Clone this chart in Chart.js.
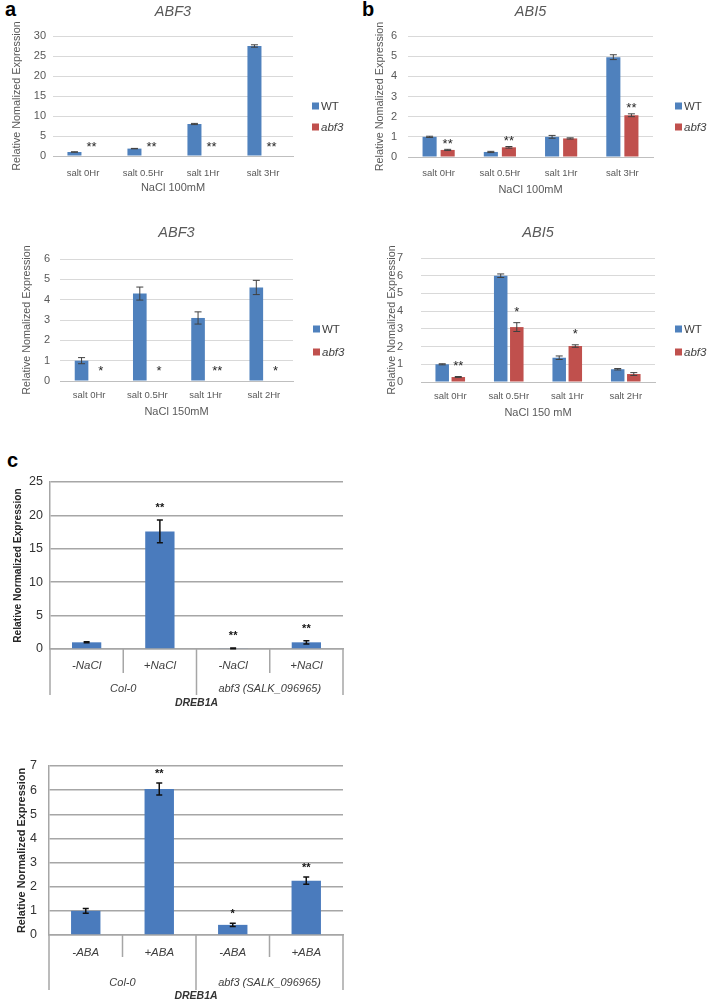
<!DOCTYPE html>
<html>
<head>
<meta charset="utf-8">
<script src="https://cdn.jsdelivr.net/npm/chart.js@4.4.1/dist/chart.umd.min.js"></script>
<style>
  body { margin: 0; background: #fff; width: 707px; height: 999px; position: relative; overflow: hidden; }
  canvas { position: absolute; }
  .tag { position: absolute; font: bold 20px "Liberation Sans", Arial, sans-serif; color: #000; }
</style>
</head>
<body>
<div class="tag" style="left:5px;top:-2px">a</div>
<div class="tag" style="left:362px;top:-2px">b</div>
<div class="tag" style="left:7px;top:449px">c</div>
<canvas id="a1" width="350" height="200" style="left:0;top:0"></canvas>
<canvas id="b1" width="357" height="200" style="left:350px;top:0"></canvas>
<canvas id="a2" width="350" height="230" style="left:0;top:200px"></canvas>
<canvas id="b2" width="357" height="230" style="left:350px;top:200px"></canvas>
<canvas id="c1" width="360" height="290" style="left:0;top:440px"></canvas>
<canvas id="c2" width="360" height="272" style="left:0;top:730px"></canvas>
<script>
// panel a/b data
const genotypes = ['WT', 'abf3'];
const salt100 = ['salt 0Hr', 'salt 0.5Hr', 'salt 1Hr', 'salt 3Hr'];
const salt150 = ['salt 0Hr', 'salt 0.5Hr', 'salt 1Hr', 'salt 2Hr'];

const abf3_100_wt = [1.0, 1.85, 8.0, 27.5];
const abf3_100_wtErr = [0.05, 0.05, 0.15, 0.3];
const abf3_100_mut = [0, 0, 0, 0];
const abf3_100_mutErr = [0, 0, 0, 0];
const abf3_100_sig = ['**', '**', '**', '**'];
const abf3_100_ticks = [0, 5, 10, 15, 20, 25, 30];

const abi5_100_wt = [1.0, 0.25, 1.0, 4.95];
const abi5_100_wtErr = [0.03, 0.03, 0.07, 0.12];
const abi5_100_mut = [0.35, 0.48, 0.92, 2.07];
const abi5_100_mutErr = [0.03, 0.04, 0.03, 0.07];
const abi5_100_sig = ['**', '**', '', '**'];
const abi5_100_ticks = [0, 1, 2, 3, 4, 5, 6];

const abf3_150_wt = [1.0, 4.3, 3.1, 4.6];
const abf3_150_wtErr = [0.15, 0.32, 0.3, 0.35];
const abf3_150_mut = [0, 0, 0, 0];
const abf3_150_mutErr = [0, 0, 0, 0];
const abf3_150_sig = ['*', '*', '**', '*'];
const abf3_150_ticks = [0, 1, 2, 3, 4, 5, 6];

const abi5_150_wt = [1.0, 6.0, 1.37, 0.72];
const abi5_150_wtErr = [0.03, 0.1, 0.1, 0.04];
const abi5_150_mut = [0.28, 3.1, 2.03, 0.45];
const abi5_150_mutErr = [0.03, 0.25, 0.07, 0.08];
const abi5_150_sig = ['**', '*', '*', ''];
const abi5_150_ticks = [0, 1, 2, 3, 4, 5, 6, 7];

// panel c data
const lines = ['Col-0', 'abf3 (SALK_096965)'];
const treatNaCl = ['-NaCl', '+NaCl', '-NaCl', '+NaCl'];
const treatABA = ['-ABA', '+ABA', '-ABA', '+ABA'];
const dreb_nacl = [1.0, 17.6, 0.1, 1.0];
const dreb_naclErr = [0.08, 1.7, 0.05, 0.25];
const dreb_naclSig = ['', '**', '**', '**'];
const dreb_naclTicks = [0, 5, 10, 15, 20, 25];
const dreb_aba = [1.0, 6.05, 0.42, 2.25];
const dreb_abaErr = [0.1, 0.25, 0.07, 0.15];
const dreb_abaSig = ['', '**', '*', '**'];
const dreb_abaTicks = [0, 1, 2, 3, 4, 5, 6, 7];

const fam = '"Liberation Sans", Arial, sans-serif';
const grey = '#595959';

// error bars, stars, legend and grouped axis labels
const extras = {
  id: 'extras',
  afterDatasetsDraw(chart) {
    const o = chart.options.plugins.extras;
    const ctx = chart.ctx, y = chart.scales.y, x = chart.scales.x, area = chart.chartArea;
    ctx.save();
    ctx.strokeStyle = o.errColor;
    ctx.lineWidth = o.errWidth;
    o.errors.forEach((errs, di) => {
      chart.getDatasetMeta(di).data.forEach((bar, i) => {
        const e = errs[i];
        if (!e) return;
        const v = chart.data.datasets[di].data[i];
        const t = y.getPixelForValue(v + e), b = y.getPixelForValue(v - e);
        ctx.beginPath();
        ctx.moveTo(bar.x, t); ctx.lineTo(bar.x, b);
        ctx.moveTo(bar.x - o.cap, t); ctx.lineTo(bar.x + o.cap, t);
        ctx.moveTo(bar.x - o.cap, b); ctx.lineTo(bar.x + o.cap, b);
        ctx.stroke();
      });
    });

    const sd = o.sigDataset, meta = chart.getDatasetMeta(sd);
    ctx.fillStyle = o.sigColor;
    ctx.font = o.sigFont;
    ctx.textAlign = 'center';
    ctx.textBaseline = 'middle';
    o.sig.forEach((s, i) => {
      if (!s) return;
      const v = chart.data.datasets[sd].data[i] + (o.errors[sd][i] || 0);
      const yy = Math.min(y.getPixelForValue(v), y.getPixelForValue(0)) - o.sigGap;
      ctx.fillText(s, meta.data[i].x + o.sigDx, yy + 3);
    });

    if (o.legend) {
      const L = o.legend;
      ctx.textAlign = 'left';
      chart.data.datasets.forEach((d, i) => {
        ctx.fillStyle = d.backgroundColor;
        ctx.fillRect(area.right + L.dx, L.ys[i] - 3.5, 7, 7);
        ctx.fillStyle = '#404040';
        ctx.font = (i === 1 ? 'italic ' : '') + '11.5px ' + fam;
        ctx.fillText(d.label, area.right + L.dx + 9, L.ys[i] + 0.5);
      });
    }

    if (o.groups) {
      const G = o.groups, n = chart.data.labels.length;
      ctx.strokeStyle = '#a6a6a6';
      ctx.lineWidth = 1.5;
      for (let k = 0; k <= n; k++) {
        const px = x.getPixelForValue(k - 0.5);
        const len = k % G.span === 0 ? G.outer : G.inner;
        ctx.beginPath();
        ctx.moveTo(px, area.bottom);
        ctx.lineTo(px, area.bottom + len);
        ctx.stroke();
      }
      ctx.fillStyle = '#404040';
      ctx.font = 'italic 11px ' + fam;
      ctx.textAlign = 'center';
      G.labels.forEach((g, j) => {
        const c = x.getPixelForValue(j * G.span + (G.span - 1) / 2);
        ctx.fillText(g, c, area.bottom + G.labelDy);
      });
    }
    ctx.restore();
  }
};

function exprPanel(id, p) {
  return new Chart(document.getElementById(id), {
    type: 'bar',
    data: {
      labels: p.labels,
      datasets: [
        { label: genotypes[0], data: p.wt, backgroundColor: '#4f81bd' },
        { label: genotypes[1], data: p.mut, backgroundColor: '#c0504d' }
      ].map(d => Object.assign(d, { borderWidth: 0, categoryPercentage: p.cat, barPercentage: p.bar }))
    },
    options: {
      responsive: false,
      animation: false,
      devicePixelRatio: 1,
      layout: { padding: p.pad },
      plugins: {
        legend: { display: false },
        tooltip: { enabled: false },
        title: {
          display: true, text: p.title, color: grey, fullSize: false,
          font: { family: fam, size: 14.5, style: 'italic', weight: 'normal' },
          padding: p.titlePad
        },
        extras: {
          errors: [p.wtErr, p.mutErr], errColor: '#404040', errWidth: 1, cap: 3.5,
          sig: p.sig, sigDataset: 1, sigGap: p.sigGap, sigDx: p.sigDx || 0,
          sigFont: '13px ' + fam, sigColor: '#262626',
          legend: { dx: p.legendDx, ys: p.legendYs }
        }
      },
      scales: {
        x: {
          grid: { display: false },
          border: { display: true, color: '#bfbfbf' },
          ticks: { color: grey, font: { family: fam, size: 9.5 }, padding: p.xTickPad, maxRotation: 0, autoSkip: false },
          title: { display: true, text: p.xTitle, color: grey, font: { family: fam, size: 11 }, padding: { top: 0, bottom: p.xTitlePad } },
          afterFit: s => { s.height = p.xH; }
        },
        y: {
          min: p.ticks[0], max: p.ticks[p.ticks.length - 1],
          afterBuildTicks: s => { s.ticks = p.ticks.map(v => ({ value: v })); },
          grid: { color: '#d9d9d9', drawTicks: false },
          border: { display: false },
          ticks: { color: grey, font: { family: fam, size: 11 }, padding: p.yTickPad },
          title: { display: true, text: 'Relative Nomalized Expression', color: grey, font: { family: fam, size: 10.8 }, padding: { top: p.yTitlePad, bottom: 0 } },
          afterFit: s => { s.width = p.yW; }
        }
      }
    },
    plugins: [extras]
  });
}

function drebPanel(id, p) {
  return new Chart(document.getElementById(id), {
    type: 'bar',
    data: {
      labels: p.labels,
      datasets: [{ label: 'DREB1A', data: p.values, backgroundColor: '#4a7bbd', borderWidth: 0, categoryPercentage: 1, barPercentage: 0.4 }]
    },
    options: {
      responsive: false,
      animation: false,
      devicePixelRatio: 1,
      layout: { padding: p.pad },
      plugins: {
        legend: { display: false },
        tooltip: { enabled: false },
        extras: {
          errors: [p.errors], errColor: '#111', errWidth: 1.5, cap: 3,
          sig: p.sig, sigDataset: 0, sigGap: p.sigGap, sigDx: 0,
          sigFont: 'bold 11px ' + fam, sigColor: '#111',
          groups: { labels: lines, span: 2, inner: p.inner, outer: p.outer, labelDy: p.groupDy }
        }
      },
      scales: {
        x: {
          grid: { display: false },
          border: { display: true, color: '#a6a6a6', width: 1.5 },
          ticks: { color: '#404040', font: { family: fam, size: 11.5, style: 'italic' }, padding: p.xTickPad, maxRotation: 0, autoSkip: false },
          title: { display: true, text: 'DREB1A', color: '#333', font: { family: fam, size: 10.5, style: 'italic', weight: 'bold' }, padding: { top: 0, bottom: p.xTitlePad } },
          afterFit: s => { s.height = p.xH; }
        },
        y: {
          min: p.ticks[0], max: p.ticks[p.ticks.length - 1],
          afterBuildTicks: s => { s.ticks = p.ticks.map(v => ({ value: v })); },
          grid: { color: '#a6a6a6', lineWidth: 1.5, drawTicks: false },
          border: { display: true, color: '#a6a6a6', width: 1.5 },
          ticks: { color: '#333', font: { family: fam, size: 12.5 }, padding: p.yTickPad },
          title: { display: true, text: 'Relative Normalized Expression', color: '#262626', font: { family: fam, size: p.yTitleSize, weight: 'bold' }, padding: { top: p.yTitlePad, bottom: 0 } },
          afterFit: s => { s.width = p.yW; }
        }
      }
    },
    plugins: [extras]
  });
}

exprPanel('a1', {
  labels: salt100, wt: abf3_100_wt, wtErr: abf3_100_wtErr, mut: abf3_100_mut, mutErr: abf3_100_mutErr,
  sig: abf3_100_sig, ticks: abf3_100_ticks, title: 'ABF3', xTitle: 'NaCl 100mM',
  pad: { left: 6, right: 57, top: 0, bottom: 0 }, titlePad: { top: 3.5, bottom: 15.1 },
  yW: 47, yTickPad: 7, yTitlePad: 4.7, xH: 44, xTickPad: 3.3, xTitlePad: 5.4,
  cat: 0.57, bar: 0.82, sigGap: 12, legendDx: 19, legendYs: [106, 127]
});

exprPanel('b1', {
  labels: salt100, wt: abi5_100_wt, wtErr: abi5_100_wtErr, mut: abi5_100_mut, mutErr: abi5_100_mutErr,
  sig: abi5_100_sig, ticks: abi5_100_ticks, title: 'ABI5', xTitle: 'NaCl 100mM',
  pad: { left: 18, right: 54, top: 0, bottom: 0 }, titlePad: { top: 3.5, bottom: 15.1 },
  yW: 40, yTickPad: 11, yTitlePad: 5.7, xH: 43, xTickPad: 2.3, xTitlePad: 3.4,
  cat: 0.59, bar: 0.78, sigGap: 8, legendDx: 22, legendYs: [106, 127]
});

exprPanel('a2', {
  labels: salt150, wt: abf3_150_wt, wtErr: abf3_150_wtErr, mut: abf3_150_mut, mutErr: abf3_150_mutErr,
  sig: abf3_150_sig, ticks: abf3_150_ticks, title: 'ABF3', xTitle: 'NaCl 150mM',
  pad: { left: 10, right: 57, top: 0, bottom: 0 }, titlePad: { top: 24.1, bottom: 17.5 },
  yW: 50, yTickPad: 10, yTitlePad: 10.7, xH: 49, xTickPad: 0.3, xTitlePad: 11.4,
  cat: 0.52, bar: 0.9, sigGap: 13, sigDx: 4, legendDx: 20, legendYs: [129, 152]
});

exprPanel('b2', {
  labels: salt150, wt: abi5_150_wt, wtErr: abi5_150_wtErr, mut: abi5_150_mut, mutErr: abi5_150_mutErr,
  sig: abi5_150_sig, ticks: abi5_150_ticks, title: 'ABI5', xTitle: 'NaCl 150 mM',
  pad: { left: 30, right: 52, top: 0, bottom: 0 }, titlePad: { top: 24.1, bottom: 16.5 },
  yW: 41, yTickPad: 18, yTitlePad: 5.7, xH: 48, xTickPad: 0.3, xTitlePad: 10.4,
  cat: 0.55, bar: 0.84, sigGap: 13, legendDx: 20, legendYs: [129, 152]
});

drebPanel('c1', {
  labels: treatNaCl, values: dreb_nacl, errors: dreb_naclErr, sig: dreb_naclSig, ticks: dreb_naclTicks,
  pad: { left: 8, right: 17, top: 42, bottom: 0 },
  yW: 42, yTickPad: 7, yTitlePad: 3.7, yTitleSize: 10.2,
  xH: 81, xTickPad: 2.1, xTitlePad: 20.7,
  inner: 24, outer: 46, groupDy: 40, sigGap: 15
});

drebPanel('c2', {
  labels: treatABA, values: dreb_aba, errors: dreb_abaErr, sig: dreb_abaSig, ticks: dreb_abaTicks,
  pad: { left: 8, right: 17, top: 36, bottom: 0 },
  yW: 41, yTickPad: 12, yTitlePad: 7.6, yTitleSize: 10.9,
  xH: 67, xTickPad: 3.1, xTitlePad: 0,
  inner: 22, outer: 55, groupDy: 48, sigGap: 12
});
</script>
</body>
</html>
